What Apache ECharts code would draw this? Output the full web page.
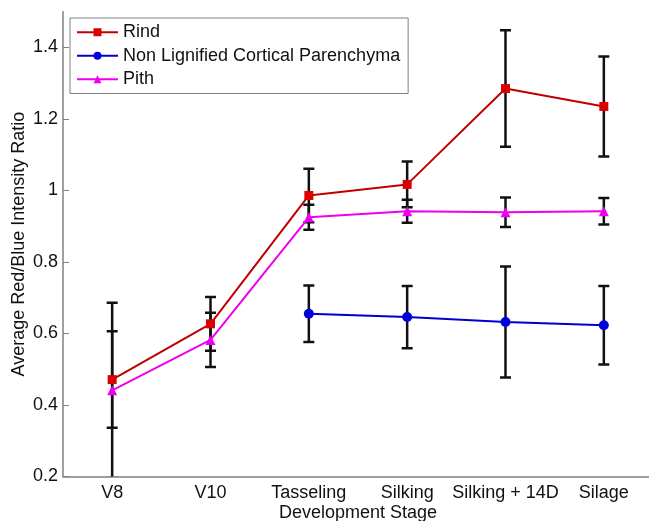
<!DOCTYPE html>
<html>
<head>
<meta charset="utf-8">
<script src="https://cdn.jsdelivr.net/npm/echarts@6/dist/echarts.min.js"></script>
<style>
  html, body { margin: 0; padding: 0; background: #fff; }
  #chart { width: 649px; height: 521px; }
</style>
</head>
<body>
<div id="chart"></div>
<script>
// development stages on the x axis
const stages = ['V8', 'V10', 'Tasseling', 'Silking', 'Silking + 14D', 'Silage']
const yTicks = [0.2, 0.4, 0.6, 0.8, 1.0, 1.2, 1.4]

// mean ratio and error (half length of the bar) per stage
const rind = [0.471, 0.627, 0.986, 1.017, 1.285, 1.235]
const rindErr = [0.135, 0.075, 0.075, 0.064, 0.163, 0.140]
const parenchyma = [null, null, 0.655, 0.646, 0.632, 0.623]
const parenchymaErr = [null, null, 0.079, 0.087, 0.155, 0.110]
const pith = [0.441, 0.582, 0.925, 0.942, 0.939, 0.942]
const pithErr = [0.245, 0.076, 0.035, 0.032, 0.041, 0.037]

const font = 'Liberation Sans, Arial, sans-serif'

// [index, low, high] for the error bar series
const errData = function(means, errs) {
  const out = []
  means.forEach((m, i) => {
    if (m === null) return
    out.push([i, m - errs[i], m + errs[i]])
  })
  return out
}

const renderErr = function(params, api) {
  const x = api.value(0)
  const lo = api.coord([x, api.value(1)])
  const hi = api.coord([x, api.value(2)])
  const cap = 5.5
  const style = { stroke: '#111', lineWidth: 2.5, fill: null }
  return {
    type: 'group',
    children: [
      { type: 'line', shape: { x1: lo[0], y1: lo[1], x2: hi[0], y2: hi[1] }, style: style },
      { type: 'line', shape: { x1: lo[0] - cap, y1: lo[1], x2: lo[0] + cap, y2: lo[1] }, style: style },
      { type: 'line', shape: { x1: hi[0] - cap, y1: hi[1], x2: hi[0] + cap, y2: hi[1] }, style: style }
    ]
  }
}

const errSeries = function(means, errs) {
  return {
    type: 'custom',
    renderItem: renderErr,
    data: errData(means, errs),
    encode: { x: 0, y: [1, 2] },
    clip: true,
    silent: true,
    z: 1
  }
}

const chart = echarts.init(document.getElementById('chart'))
chart.setOption({
  animation: false,
  backgroundColor: '#fff',
  textStyle: { fontFamily: font },
  grid: { left: 63, top: 11.7, width: 590, bottom: 44.5, outerBoundsMode: 'none', containLabel: false },
  legend: {
    orient: 'vertical',
    left: 70,
    top: 18,
    padding: [5, 8, 5, 6],
    itemGap: 5,
    itemWidth: 41,
    itemHeight: 10,
    borderColor: '#808080',
    borderWidth: 1,
    backgroundColor: '#fff',
    textStyle: { fontFamily: font, fontSize: 18, color: '#111', lineHeight: 18.5 },
    data: ['Rind', 'Non Lignified Cortical Parenchyma', 'Pith']
  },
  xAxis: {
    type: 'category',
    data: stages,
    boundaryGap: true,
    name: 'Development Stage',
    nameLocation: 'middle',
    nameGap: 28,
    nameMoveOverlap: false,
    nameTextStyle: { fontFamily: font, fontSize: 18, color: '#111' },
    axisLine: { lineStyle: { color: '#808080', width: 1.5 } },
    axisTick: { inside: true, alignWithLabel: true, length: 6, lineStyle: { color: '#808080' } },
    axisLabel: { fontFamily: font, fontSize: 18, color: '#111', margin: 8, interval: 0 },
    splitLine: { show: false }
  },
  yAxis: {
    type: 'value',
    min: 0.2,
    max: 1.5,
    interval: 0.2,
    name: 'Average Red/Blue Intensity Ratio',
    nameLocation: 'middle',
    nameGap: 35,
    nameMoveOverlap: false,
    nameTextStyle: { fontFamily: font, fontSize: 18, color: '#111' },
    axisLine: { show: true, lineStyle: { color: '#808080', width: 1.5 } },
    axisTick: { show: true, inside: true, length: 6, lineStyle: { color: '#808080' }, customValues: yTicks },
    axisLabel: {
      fontFamily: font, fontSize: 18, color: '#111', margin: 5, customValues: yTicks,
      formatter: v => String(Math.round(v * 10) / 10)
    },
    splitLine: { show: false }
  },
  series: [
    errSeries(rind, rindErr),
    errSeries(parenchyma, parenchymaErr),
    errSeries(pith, pithErr),
    {
      name: 'Rind',
      type: 'line',
      data: rind,
      symbol: 'rect',
      symbolSize: 9,
      color: '#cc0000',
      lineStyle: { color: '#c00000', width: 2 },
      itemStyle: { color: '#dd0000' },
      z: 3
    },
    {
      name: 'Non Lignified Cortical Parenchyma',
      type: 'line',
      data: parenchyma,
      symbol: 'circle',
      symbolSize: 10,
      color: '#0000cc',
      lineStyle: { color: '#0000cc', width: 2 },
      itemStyle: { color: '#0000dd' },
      z: 3
    },
    {
      name: 'Pith',
      type: 'line',
      data: pith,
      symbol: 'triangle',
      symbolSize: 10,
      color: '#ee00ee',
      lineStyle: { color: '#ee00ee', width: 2 },
      itemStyle: { color: '#ee00ee' },
      z: 3
    }
  ]
})
</script>
</body>
</html>
